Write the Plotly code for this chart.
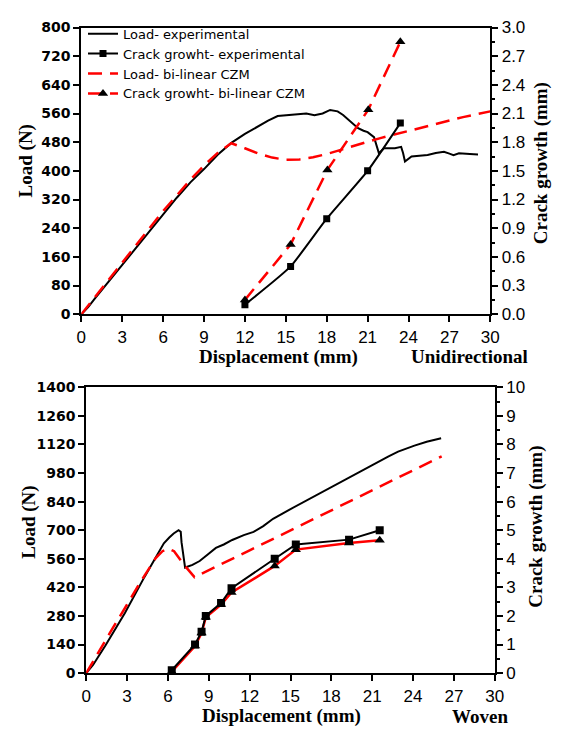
import plotly.graph_objects as go

# ---------------- Unidirectional specimen ----------------
uni_disp_exp = [0, 0.5, 1, 3, 5, 7, 8, 9, 10, 11, 12, 13, 13.7, 14.4, 15.2, 15.9, 16.5,
                17.1, 17.7, 18.25, 18.8, 19.2, 19.7, 20.3, 20.7, 21.0, 21.47, 21.65,
                21.83, 22.2, 22.6, 23.0, 23.46, 23.6, 23.74, 24.22, 24.8, 25.4, 26.0,
                26.6, 27.0, 27.3, 27.7, 28.0, 28.5, 29.1]
uni_load_exp = [0, 20, 44, 138, 232, 325, 368, 405, 445, 478, 503, 526, 540, 553, 556,
                558, 560, 555, 560, 570, 566, 556, 540, 519, 512, 508, 494, 470, 449,
                463, 462, 463, 467, 450, 426, 440, 442, 444, 450, 453, 448, 444, 449,
                449, 447, 446]

uni_disp_czm = [0, 3, 6, 8, 9, 10, 11, 12, 13, 14, 15, 16, 17, 18, 19, 20, 21, 22, 23,
                24, 25, 26, 27, 28, 29, 30]
uni_load_czm = [0, 145, 288, 375, 415, 450, 477, 463, 448, 437, 431, 432, 438, 447, 459,
                470, 481, 492, 502, 512, 522, 532, 541, 550, 558, 566]

uni_crack_disp_exp = [12.0, 15.35, 18.0, 21.0, 23.4]
uni_crack_exp = [0.10, 0.50, 1.00, 1.50, 2.00]
uni_crack_disp_czm = [12.0, 15.35, 18.05, 21.05, 23.4]
uni_crack_czm = [0.15, 0.73, 1.51, 2.14, 2.85]

# ---------------- Woven specimen ----------------
wov_disp_exp = [0, 0.5, 1.41, 2.84, 4.27, 5.11, 5.7, 6.1, 6.42, 6.78, 6.94, 7.0, 7.1,
                7.26, 7.8, 8.33, 8.9, 9.52, 10.1, 10.72, 11.57, 12.29, 13.0, 13.72,
                14.9, 16.1, 17.3, 18.5, 19.6, 20.65, 21.5, 22.2, 22.9, 23.5, 24.1,
                25.0, 26.06]
wov_load_exp = [0, 40, 135, 294, 470, 565, 636, 664, 684, 700, 692, 640, 580, 517, 530,
                549, 580, 613, 630, 652, 676, 692, 720, 756, 800, 843, 888, 930, 970,
                1010, 1040, 1062, 1085, 1100, 1114, 1133, 1150]

wov_disp_czm = [0, 1, 2, 3, 4, 5.1, 5.6, 6.05, 6.45, 7.15, 7.95, 12, 16, 20, 24, 26.1]
wov_load_czm = [0, 115, 226, 336, 448, 563, 597, 610, 597, 533, 470, 601, 731, 862,
                992, 1062]

wov_crack_disp = [6.28, 7.99, 8.47, 8.78, 9.9, 10.67, 13.84, 15.39, 19.3, 21.55]
wov_crack_exp = [0.10, 1.00, 1.45, 2.00, 2.45, 2.97, 4.00, 4.50, 4.67, 5.00]
wov_crack_czm = [0.05, 0.95, 1.40, 1.95, 2.40, 2.82, 3.75, 4.32, 4.55, 4.65]

disp_ticks = list(range(0, 31, 3))

W, H = 562, 736


def px(x):
    return x / W


def py(y):
    return 1 - y / H


RED = "#ff0000"
BLACK = "#000000"
DASH = "14px,8px"

fig = go.Figure()

# Unidirectional traces (legend entries)
fig.add_trace(go.Scatter(x=uni_disp_exp, y=uni_load_exp, mode="lines",
                         name="Load- experimental", line=dict(color=BLACK, width=2),
                         xaxis="x", yaxis="y"))
fig.add_trace(go.Scatter(x=uni_crack_disp_exp, y=uni_crack_exp, mode="lines+markers",
                         name="Crack growht- experimental",
                         line=dict(color=BLACK, width=2, shape="spline", smoothing=0.5),
                         marker=dict(symbol="square", size=7, color=BLACK),
                         xaxis="x", yaxis="y2"))
fig.add_trace(go.Scatter(x=uni_disp_czm, y=uni_load_czm, mode="lines",
                         name="Load- bi-linear CZM",
                         line=dict(color=RED, width=2.5, dash=DASH),
                         xaxis="x", yaxis="y"))
fig.add_trace(go.Scatter(x=uni_crack_disp_czm, y=uni_crack_czm, mode="lines+markers",
                         name="Crack growht- bi-linear CZM",
                         line=dict(color=RED, width=2.5, dash=DASH),
                         marker=dict(symbol="triangle-up", size=9, color=BLACK),
                         xaxis="x", yaxis="y2"))

# Woven traces
fig.add_trace(go.Scatter(x=wov_disp_exp, y=wov_load_exp, mode="lines",
                         line=dict(color=BLACK, width=2), showlegend=False,
                         xaxis="x2", yaxis="y3"))
fig.add_trace(go.Scatter(x=wov_disp_czm, y=wov_load_czm, mode="lines",
                         line=dict(color=RED, width=2.5, dash=DASH), showlegend=False,
                         xaxis="x2", yaxis="y3"))
fig.add_trace(go.Scatter(x=wov_crack_disp, y=wov_crack_czm, mode="lines+markers",
                         line=dict(color=RED, width=2.5),
                         marker=dict(symbol="triangle-up", size=9, color=BLACK),
                         showlegend=False, xaxis="x2", yaxis="y4"))
fig.add_trace(go.Scatter(x=wov_crack_disp, y=wov_crack_exp, mode="lines+markers",
                         line=dict(color=BLACK, width=2),
                         marker=dict(symbol="square", size=8, color=BLACK),
                         showlegend=False, xaxis="x2", yaxis="y4"))

tick_sans = "Liberation Sans, Arial, sans-serif"
bold_sans = "DejaVu Sans, sans-serif"

common_x = dict(range=[0, 30], tickmode="array", tickvals=disp_ticks,
                showline=True, linecolor=BLACK, linewidth=2, mirror=True,
                ticks="outside", ticklen=6, tickwidth=1.5, tickcolor=BLACK,
                showgrid=False, zeroline=False,
                tickfont=dict(family=tick_sans, size=17, color=BLACK))

left_y = dict(showline=True, linecolor=BLACK, linewidth=2,
              ticks="outside", ticklen=6, tickwidth=1.5, tickcolor=BLACK,
              showgrid=False, zeroline=False,
              tickfont=dict(family=bold_sans, size=14, color=BLACK, weight="bold"))

right_y = dict(side="right", showline=True, linecolor=BLACK, linewidth=2,
               ticks="outside", ticklen=6, tickwidth=1.5, tickcolor=BLACK,
               showgrid=False, zeroline=False,
               tickfont=dict(family=tick_sans, size=17, color=BLACK))

top_dom_x = [px(78.3), px(497.7)]
top_dom_y = [py(313.3), py(19)]
bot_dom_x = [px(83.3), px(502.3)]
bot_dom_y = [py(681.7), py(388.3)]

fig.update_layout(
    width=W, height=H,
    margin=dict(l=0, r=0, t=0, b=0),
    paper_bgcolor="white", plot_bgcolor="white",
    xaxis=dict(domain=top_dom_x, anchor="y", **common_x),
    yaxis=dict(domain=top_dom_y, anchor="x", range=[0, 800], dtick=80, tick0=0,
               **left_y),
    yaxis2=dict(overlaying="y", anchor="x", range=[0, 3.0], dtick=0.3, tick0=0,
                tickformat=".1f",
                minor=dict(dtick=0.15, ticks="outside", ticklen=3, tickwidth=1.5,
                           tickcolor=BLACK),
                **right_y),
    xaxis2=dict(domain=bot_dom_x, anchor="y3", **common_x),
    yaxis3=dict(domain=bot_dom_y, anchor="x2", range=[0, 1400], dtick=140, tick0=0,
                **left_y),
    yaxis4=dict(overlaying="y3", anchor="x2", range=[0, 10], dtick=1, tick0=0,
                minor=dict(dtick=0.5, ticks="outside", ticklen=3, tickwidth=1.5,
                           tickcolor=BLACK),
                **right_y),
    legend=dict(x=px(80), y=py(10), xanchor="left", yanchor="top",
                bgcolor="rgba(0,0,0,0)", borderwidth=0, tracegroupgap=0,
                font=dict(family="DejaVu Sans, sans-serif", size=13, color=BLACK),
                itemwidth=30),
    showlegend=True,
)

title_font = dict(family="Liberation Serif, Times New Roman, serif", size=19,
                  color=BLACK, weight="bold")


def label(text, x, y, angle=0):
    fig.add_annotation(text=text, x=px(x), y=py(y), xref="paper", yref="paper",
                       showarrow=False, textangle=angle, font=title_font,
                       xanchor="center", yanchor="middle")


# Unidirectional axis titles
label("Load (N)", 22, 156, -90)
label("Crack growth (mm)", 550, 158, -90)
label("Displacement (mm)", 280, 357)
label("Unidirectional", 476, 357)

# Woven axis titles
label("Load (N)", 25, 527, -90)
label("Crack growth (mm)", 545, 531, -90)
label("Displacement (mm)", 284, 726)
label("Woven", 487, 726)

fig.write_html("out.html")
